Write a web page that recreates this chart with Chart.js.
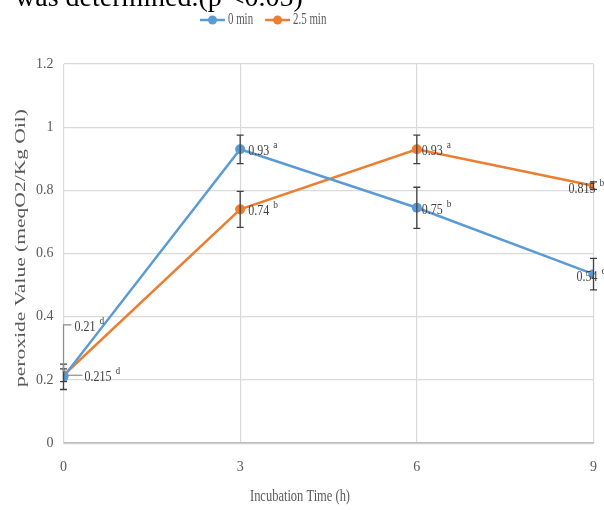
<!DOCTYPE html>
<html><head><meta charset="utf-8">
<script src="https://cdn.jsdelivr.net/npm/chart.js@4"></script>
<style>
html,body{margin:0;padding:0;background:#fff;overflow:hidden;}
#wrap{position:relative;width:604px;height:510px;overflow:hidden;}
#cap{position:absolute;left:15px;top:-19px;font:28px "Liberation Serif",serif;color:#000;white-space:nowrap;}
canvas{position:absolute;left:0;top:0;}
</style></head><body>
<div id="wrap"><canvas id="c" width="613" height="510"></canvas><div id="cap">was determined.(p &lt;0.05)</div></div>
<script>
const times = [0, 3, 6, 9];
const series0 = [0.21, 0.93, 0.745, 0.535];
const series25 = [0.215, 0.74, 0.93, 0.815];
const err0 = [0.04, 0.045, 0.065, 0.05];
const err25 = [0.02, 0.057, 0.045, 0.012];
const text0 = ['0.21', '0.93', '0.75', '0.54'];
const text25 = ['0.215', '0.74', '0.93', '0.815'];
const sup0 = ['d', 'a', 'b', 'c'];
const sup25 = ['d', 'b', 'a', 'b'];
const seriesNames = ['0 min', '2.5 min'];
const yTicks = [0, 0.2, 0.4, 0.6, 0.8, 1, 1.2];
const yTitle = 'peroxide Value (meqO2/Kg Oil)';
const xTitle = 'Incubation Time (h)';

const BLUE = '#5B9BD5', ORANGE = '#ED7D31';
const FONT = '"Liberation Serif", serif';
const COLORS = [BLUE, ORANGE];

function narrowText(ctx, txt, x, y, sx){
  ctx.save(); ctx.translate(x, y); ctx.scale(sx, 1); ctx.fillText(txt, 0, 0); ctx.restore();
  return ctx.measureText(txt).width * sx;
}

const errorBars = {
  id: 'errorBars',
  afterDatasetsDraw(chart){
    const ctx = chart.ctx, xs = chart.scales.x, ys = chart.scales.y;
    const errs = [err0, err25];
    ctx.save();
    ctx.strokeStyle = '#404040'; ctx.lineWidth = 1.3;
    chart.data.datasets.forEach((ds, di) => {
      ds.data.forEach((p, i) => {
        const x = xs.getPixelForValue(p.x);
        const y1 = ys.getPixelForValue(p.y + errs[di][i]);
        const y2 = ys.getPixelForValue(p.y - errs[di][i]);
        ctx.beginPath();
        ctx.moveTo(x, y1); ctx.lineTo(x, y2);
        ctx.moveTo(x-3.5, y1); ctx.lineTo(x+3.5, y1);
        ctx.moveTo(x-3.5, y2); ctx.lineTo(x+3.5, y2);
        ctx.stroke();
      });
    });
    ctx.restore();
  }
};

const dataLabels = {
  id: 'dataLabels',
  afterDatasetsDraw(chart){
    const ctx = chart.ctx, xs = chart.scales.x, ys = chart.scales.y;
    const texts = [text0, text25], sups = [sup0, sup25];
    const offs = [
      [[11, -50], [8, 2], [5, 2], [-17, 3]],
      [[21, 2], [8, 2], [5, 2], [-25, 3]]
    ];
    ctx.save();
    ctx.fillStyle = '#404040';
    ctx.textBaseline = 'middle';
    chart.data.datasets.forEach((ds, di) => {
      ds.data.forEach((p, i) => {
        const px = xs.getPixelForValue(p.x), py = ys.getPixelForValue(p.y);
        const [dx, dy] = offs[di][i];
        const tx = px + dx, ty = py + dy;
        ctx.strokeStyle = '#8c8c8c'; ctx.lineWidth = 1.2;
        if (di === 0 && i === 0) {
          ctx.beginPath(); ctx.moveTo(px, py - 5); ctx.lineTo(px, ty - 2); ctx.lineTo(px + 8, ty - 2); ctx.stroke();
        }
        if (di === 1 && i === 0) {
          ctx.beginPath(); ctx.moveTo(px + 4, ty - 2); ctx.lineTo(px + 19, ty - 2); ctx.stroke();
        }
        ctx.font = '15px ' + FONT;
        const w = narrowText(ctx, texts[di][i], tx, ty, 0.8);
        ctx.font = '11px ' + FONT;
        narrowText(ctx, sups[di][i], tx + w + 4, ty - 6, 0.85);
      });
    });
    ctx.restore();
  }
};

const customText = {
  id: 'customText',
  afterDraw(chart){
    const ctx = chart.ctx;
    ctx.save();
    ctx.textBaseline = 'middle';
    ctx.font = '16px ' + FONT;
    let x = 200; const ly = 20;
    seriesNames.forEach((name, i) => {
      ctx.strokeStyle = COLORS[i]; ctx.lineWidth = 2.5;
      ctx.beginPath(); ctx.moveTo(x, ly); ctx.lineTo(x + 25, ly); ctx.stroke();
      ctx.fillStyle = COLORS[i];
      ctx.beginPath(); ctx.arc(x + 12.5, ly, 4.5, 0, Math.PI * 2); ctx.fill();
      ctx.fillStyle = '#595959';
      const w = narrowText(ctx, name, x + 28, ly, 0.68);
      x += 28 + w + 12;
    });
    ctx.fillStyle = '#595959';
    ctx.font = '16px ' + FONT;
    const xw = ctx.measureText(xTitle).width * 0.78;
    narrowText(ctx, xTitle, 300 - xw / 2, 497, 0.78);
    ctx.font = '15px ' + FONT;
    ctx.textAlign = 'center';
    const w = ctx.measureText(yTitle).width;
    ctx.translate(21, 248);
    ctx.rotate(-Math.PI / 2);
    ctx.scale(278 / w, 1);
    ctx.fillText(yTitle, 0, 0);
    ctx.restore();
  }
};

new Chart(document.getElementById('c'), {
  type: 'line',
  data: {
    datasets: [
      { label: seriesNames[0], data: times.map((t,i)=>({x:t, y:series0[i]})), borderColor: BLUE, backgroundColor: BLUE, borderWidth: 2.5, pointRadius: 5, pointBackgroundColor: BLUE, pointBorderWidth: 0, tension: 0},
      { label: seriesNames[1], data: times.map((t,i)=>({x:t, y:series25[i]})), borderColor: ORANGE, backgroundColor: ORANGE, borderWidth: 2.5, pointRadius: 5, pointBackgroundColor: ORANGE, pointBorderWidth: 0, tension: 0}
    ]
  },
  options: {
    responsive: false, animation: false,
    layout: { autoPadding: false, padding: { top: 64, right: 11, left: 26, bottom: 18 } },
    plugins: {
      legend: { display: false },
      tooltip: { enabled: false }
    },
    scales: {
      x: {
        type: 'linear', min: 0, max: 9,
        afterBuildTicks: ax => { ax.ticks = times.map(v => ({value: v})); },
        grid: { color: '#d9d9d9', lineWidth: 1.2, drawTicks: false },
        border: { color: '#bfbfbf', width: 1.5 },
        ticks: { color: '#595959', font: { family: FONT, size: 14 }, padding: 16 },
        title: { display: false, text: xTitle }
      },
      y: {
        min: 0, max: 1.2,
        afterBuildTicks: ax => { ax.ticks = yTicks.map(v => ({value: v})); },
        grid: { color: '#d9d9d9', lineWidth: 1.2, drawTicks: false },
        border: { color: '#d9d9d9' },
        ticks: { color: '#595959', font: { family: FONT, size: 14 }, padding: 10, callback: v => String(v) }
      }
    }
  },
  plugins: [errorBars, dataLabels, customText]
});
</script>
</body></html>
